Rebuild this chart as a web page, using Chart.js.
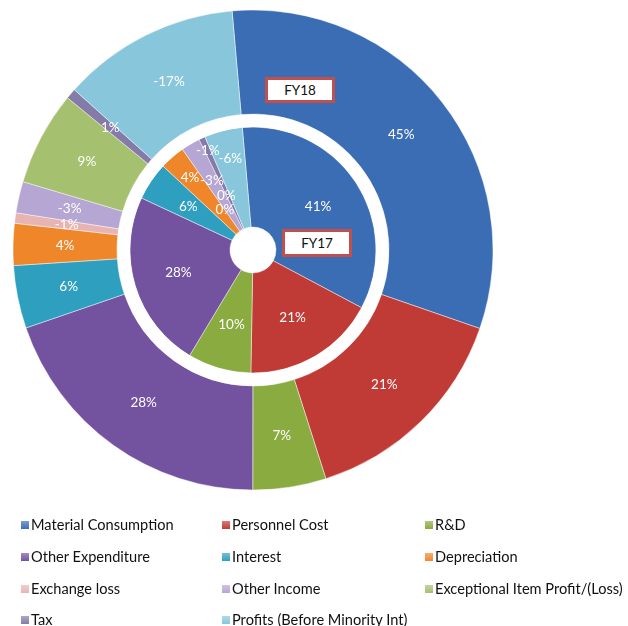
<!DOCTYPE html>
<html><head><meta charset="utf-8">
<script src="https://cdn.jsdelivr.net/npm/chart.js@4.4.1/dist/chart.umd.min.js"></script>
<style>
html,body{margin:0;padding:0;background:#fff;}
#wrap{position:relative;width:628px;height:626px;overflow:hidden;}
#c{position:absolute;left:0;top:0;}
.box{position:absolute;box-sizing:border-box;border:3px solid #c0504d;background:#fff;font:13.5px Lato,sans-serif;color:#111;display:flex;align-items:center;justify-content:center;}
.li{position:absolute;font:14.6px Lato,sans-serif;color:#111;white-space:nowrap;line-height:16px;height:16px;}
.li i{position:absolute;left:0;top:4px;width:8px;height:8px;}
.li span{position:absolute;left:10px;top:0;}
</style></head>
<body><div id="wrap"><canvas id="c" width="628" height="626"></canvas></div>
<script>
// ---- data ----
const categories = ['Material Consumption','Personnel Cost','R&D','Other Expenditure','Interest','Depreciation','Exchange loss','Other Income','Exceptional Item Profit/(Loss)','Tax','Profits (Before Minority Int)'];
const fy18 = [45, 21, 7, 28, 6, 4, -1, -3, 9, 1, -17];
const fy17 = [41, 21, 10, 28, 6, 4, 0, -3, 0, -1, -6];
const seriesNames = ['FY18', 'FY17'];

// ---- style ----
const colors = ['#3b6db5','#c03b35','#8aab3f','#7352a0','#2f9fc0','#f0862a','#e8b4b2','#b6a6d4','#a5c06f','#857ba8','#88c6dc'];
const innerLabelFrac = [0.55,0.55,0.55,0.55,0.55,0.73,0.26,0.58,0.38,0.86,0.71];
const outerLabelFrac = 0.5;

const labelPlugin = {
  id: 'sliceLabels',
  afterDatasetsDraw(chart) {
    const ctx = chart.ctx;
    ctx.save();
    ctx.fillStyle = '#ffffff';
    ctx.font = '13.5px Lato, sans-serif';
    ctx.textAlign = 'center';
    ctx.textBaseline = 'middle';
    [[0, fy18, null], [2, fy17, innerLabelFrac]].forEach(([di, vals, fracs]) => {
      const meta = chart.getDatasetMeta(di);
      meta.data.forEach((arc, i) => {
        const p = arc.getProps(['x','y','startAngle','endAngle','innerRadius','outerRadius'], true);
        const a = (p.startAngle + p.endAngle) / 2;
        const f = fracs ? fracs[i] : outerLabelFrac;
        const r = p.innerRadius + f * (p.outerRadius - p.innerRadius);
        ctx.fillText(vals[i] + '%', p.x + Math.cos(a) * r, p.y + Math.sin(a) * r);
      });
    });
    ctx.restore();
  }
};

new Chart(document.getElementById('c'), {
  type: 'doughnut',
  data: {
    labels: categories,
    datasets: [
      { label: seriesNames[0], data: fy18, backgroundColor: colors, borderColor: 'rgba(255,255,255,0.45)', borderWidth: 1, weight: 104 },
      { label: 'gap', data: [1], backgroundColor: ['#ffffff'], borderWidth: 0, weight: 13 },
      { label: seriesNames[1], data: fy17, backgroundColor: colors, borderColor: 'rgba(255,255,255,0.45)', borderWidth: 1, weight: 100 }
    ]
  },
  options: {
    responsive: false,
    animation: false,
    rotation: -5,
    cutout: 23,
    layout: { padding: { left: 12.5, right: 134.5, top: 9.5, bottom: 135.5 } },
    plugins: { legend: { display: false }, tooltip: { enabled: false } },
    events: []
  },
  plugins: [labelPlugin]
});

// FY boxes
const wrap = document.getElementById('wrap');
[[seriesNames[0], 265, 77, 70, 26], [seriesNames[1], 282, 229, 70, 28]].forEach(([t, x, y, w, h]) => {
  const d = document.createElement('div');
  d.className = 'box';
  d.style.left = x + 'px'; d.style.top = y + 'px'; d.style.width = w + 'px'; d.style.height = h + 'px';
  d.textContent = t;
  wrap.appendChild(d);
});

// legend
const colX = [21, 222, 425];
const rowY = [517, 549, 581, 612];
categories.forEach((c, i) => {
  const d = document.createElement('div');
  d.className = 'li';
  d.style.left = colX[i % 3] + 'px';
  d.style.top = rowY[Math.floor(i / 3)] + 'px';
  const m = document.createElement('i');
  m.style.background = 'linear-gradient(' + colors[i] + 'aa,' + colors[i] + ')';
  const s = document.createElement('span');
  s.textContent = c;
  d.appendChild(m); d.appendChild(s);
  wrap.appendChild(d);
});
</script></body></html>
